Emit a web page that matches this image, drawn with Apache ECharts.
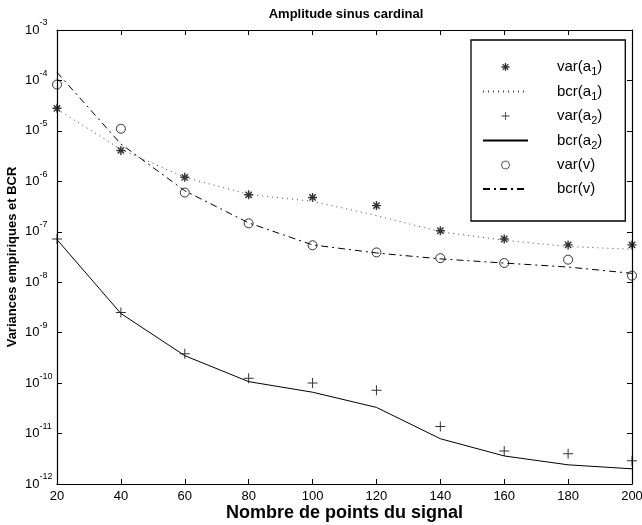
<!DOCTYPE html>
<html>
<head>
<meta charset="utf-8">
<script src="https://cdn.jsdelivr.net/npm/echarts@6/dist/echarts.min.js"></script>
<style>
  html, body { margin: 0; padding: 0; background: #fff; }
  #chart { width: 642px; height: 525px; }
</style>
</head>
<body>
<div id="chart"></div>
<script>
const nPoints = [20, 40, 60, 80, 100, 120, 140, 160, 180, 200];
const varA1 = [2.8e-5, 4.1e-6, 1.2e-6, 5.4e-7, 4.8e-7, 3.3e-7, 1.05e-7, 7.2e-8, 5.5e-8, 5.5e-8];
const bcrA1 = [2.7e-5, 4.3e-6, 1.2e-6, 5.5e-7, 4.0e-7, 2.1e-7, 1.0e-7, 6.8e-8, 5.1e-8, 4.5e-8];
const varA2 = [7.2e-8, 2.5e-9, 3.8e-10, 1.25e-10, 1.0e-10, 7.2e-11, 1.38e-11, 4.5e-12, 4.0e-12, 2.9e-12];
const bcrA2 = [7.0e-8, 2.4e-9, 3.5e-10, 1.07e-10, 6.6e-11, 3.3e-11, 7.9e-12, 3.6e-12, 2.4e-12, 2.0e-12];
const varV = [8.3e-5, 1.1e-5, 6.0e-7, 1.47e-7, 5.4e-8, 3.9e-8, 3.0e-8, 2.4e-8, 2.8e-8, 1.35e-8];
const bcrV = [1.45e-4, 5.5e-6, 6.5e-7, 1.5e-7, 5.5e-8, 3.8e-8, 2.9e-8, 2.4e-8, 2.0e-8, 1.5e-8];

const legendNames = {
  'var(a1)': 'var(a{sub|1})',
  'bcr(a1)': 'bcr(a{sub|1})',
  'var(a2)': 'var(a{sub|2})',
  'bcr(a2)': 'bcr(a{sub|2})',
  'var(v)': 'var(v)',
  'bcr(v)': 'bcr(v)'
};

const font = 'Liberation Sans, Arial, Helvetica, sans-serif';

// marqueurs type matlab
const starPath = 'path://M-0.8,-5L0.8,-5L0.8,5L-0.8,5Z M-5,-0.8L5,-0.8L5,0.8L-5,0.8Z ' +
  'M-4.1,-2.97L-2.97,-4.1L4.1,2.97L2.97,4.1Z M2.97,-4.1L4.1,-2.97L-2.97,4.1L-4.1,2.97Z';
const plusPath = 'path://M-0.5,-5L0.5,-5L0.5,5L-0.5,5Z M-5,-0.5L5,-0.5L5,0.5L-5,0.5Z';

const pairs = arr => nPoints.map((n, i) => [n, arr[i]]);

const chart = echarts.init(document.getElementById('chart'));

const yLabel = v => {
  const e = Math.round(Math.log10(v));
  return '{b|10}{s|' + e + '}';
};

const noMark = { color: 'rgba(0,0,0,0)', borderWidth: 0 };

chart.setOption({
  animation: false,
  textStyle: { fontFamily: font, color: '#000' },
  title: {
    text: 'Amplitude sinus cardinal',
    left: 341,
    top: 3,
    textAlign: 'center',
    textStyle: { fontSize: 13, fontWeight: 'bold', color: '#000', fontFamily: font }
  },
  grid: { left: 57, right: 10, top: 30, bottom: 41, outerBoundsMode: 'none' },
  legend: {
    orient: 'vertical',
    left: 471,
    top: 40,
    padding: [17, 23, 22, 11],
    itemWidth: 45,
    itemHeight: 8,
    itemGap: 4,
    backgroundColor: '#fff',
    borderColor: '#000',
    borderWidth: 1.3,
    borderRadius: 0,
    formatter: name => legendNames[name],
    textStyle: {
      fontSize: 15,
      color: '#000',
      fontFamily: font,
      lineHeight: 20,
      padding: [0, 0, 0, 24],
      rich: {
        sub: { fontSize: 11, fontFamily: font, padding: [10, 0, 0, 0] }
      }
    },
    data: ['var(a1)', 'bcr(a1)', 'var(a2)', 'bcr(a2)',
      { name: 'var(v)', itemStyle: { borderWidth: 0.8 } }, 'bcr(v)']
  },
  xAxis: [{
    type: 'value',
    min: 20,
    max: 200,
    interval: 20,
    name: 'Nombre de points du signal',
    nameLocation: 'middle',
    nameGap: 20,
    nameMoveOverlap: false,
    nameTextStyle: { fontSize: 18, fontWeight: 'bold', color: '#000', fontFamily: font },
    axisLine: { lineStyle: { color: '#000', width: 1.2 } },
    axisTick: { inside: true, length: 5, lineStyle: { color: '#000' } },
    axisLabel: { fontSize: 13, color: '#000', margin: 6, fontFamily: font },
    splitLine: { show: false }
  }, {
    type: 'value',
    position: 'top',
    min: 20,
    max: 200,
    interval: 20,
    axisLine: { lineStyle: { color: '#000', width: 1.2 } },
    axisTick: { inside: true, length: 5, lineStyle: { color: '#000' } },
    axisLabel: { show: false },
    splitLine: { show: false }
  }],
  yAxis: [{
    type: 'log',
    logBase: 10,
    min: 1e-12,
    max: 1e-3,
    interval: 1,
    name: 'Variances empiriques et BCR',
    nameLocation: 'middle',
    nameGap: 38,
    nameMoveOverlap: false,
    nameTextStyle: { fontSize: 13, fontWeight: 'bold', color: '#000', fontFamily: font },
    axisLine: { lineStyle: { color: '#000', width: 1.2 } },
    axisTick: { inside: true, length: 5, lineStyle: { color: '#000' } },
    minorTick: { show: false },
    axisLabel: {
      formatter: yLabel,
      margin: 32,
      align: 'left',
      rich: {
        b: { fontSize: 13, color: '#000', fontFamily: font },
        s: { fontSize: 9, color: '#000', fontFamily: font, padding: [0, 0, 14, 0] }
      }
    },
    splitLine: { show: false }
  }, {
    type: 'log',
    logBase: 10,
    min: 1e-12,
    max: 1e-3,
    interval: 1,
    position: 'right',
    axisLine: { lineStyle: { color: '#000', width: 1.2 } },
    axisTick: { inside: true, length: 5, lineStyle: { color: '#000' } },
    axisLabel: { show: false },
    splitLine: { show: false }
  }],
  series: [
    {
      name: 'var(a1)', type: 'scatter', data: pairs(varA1),
      symbol: starPath, symbolSize: 9,
      itemStyle: { color: '#000' }
    },
    {
      name: 'bcr(a1)', type: 'line', data: pairs(bcrA1), symbol: 'none',
      lineStyle: { color: '#444', width: 1, type: [1, 4] },
      itemStyle: noMark
    },
    {
      name: 'var(a2)', type: 'scatter', data: pairs(varA2),
      symbol: plusPath, symbolSize: 10,
      itemStyle: { color: '#000' }
    },
    {
      name: 'bcr(a2)', type: 'line', data: pairs(bcrA2), symbol: 'none',
      lineStyle: { color: '#000', width: 1 },
      itemStyle: noMark
    },
    {
      name: 'var(v)', type: 'scatter', data: pairs(varV),
      symbol: 'circle', symbolSize: 9,
      itemStyle: { color: 'rgba(0,0,0,0)', borderColor: '#000', borderWidth: 1 }
    },
    {
      name: 'bcr(v)', type: 'line', data: pairs(bcrV), symbol: 'none',
      lineStyle: { color: '#000', width: 1, type: [7, 4, 2, 4] },
      itemStyle: noMark
    }
  ]
});
</script>
</body>
</html>
